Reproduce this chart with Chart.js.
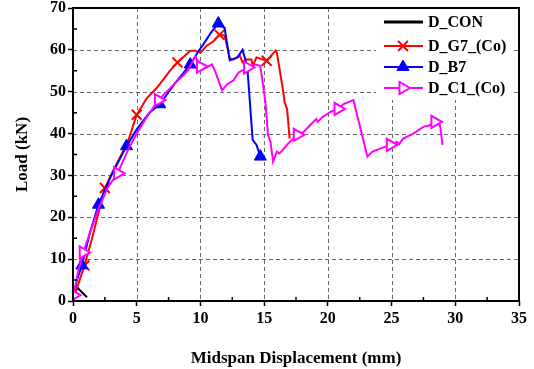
<!DOCTYPE html>
<html>
<head>
<meta charset="utf-8">
<script src="https://cdn.jsdelivr.net/npm/chart.js@4"></script>
<style>
  html, body { margin: 0; padding: 0; background: #fff; }
  #wrap { width: 534px; height: 369px; }
</style>
</head>
<body>
<div id="wrap"><canvas id="loadChart" width="534" height="369"></canvas></div>
<script>
// midspan displacement (mm) / load (kN)
const conX = [0, 0.15, 0.35, 0.6, 1.1];
const conY = [0, 2, 3.2, 2.4, 0.9];

const g7X = [0, 0.3, 0.9, 1.5, 2.0, 2.5, 3.3, 4.3, 5.0, 5.8, 6.6, 7.6, 8.2, 9.2, 9.6, 10.0, 10.5, 11.0, 11.5, 11.9, 12.3, 12.6, 13.1, 13.3, 13.6, 14.0, 14.1, 14.4, 15.2, 15.9, 16.0, 16.5, 16.6, 16.8, 17.0];
const g7Y = [0, 3, 8.5, 15, 21, 27, 32, 38, 44.5, 48.5, 51, 55, 57, 59.8, 59.8, 59.3, 61, 62, 63.6, 63.4, 58, 57.7, 58.6, 57, 57.7, 57.7, 56.2, 58.2, 57.4, 59.8, 59.3, 50, 47.5, 45.9, 38.8];
const g7Marks = [2, 5, 8, 12, 18, 28];

const b7X = [0, 0.3, 0.7, 1.3, 2.0, 3.0, 4.2, 5.0, 6.0, 6.8, 8.0, 9.2, 9.8, 10.2, 10.8, 11.4, 11.9, 12.3, 12.9, 13.3, 13.5, 13.7, 14.1, 14.4, 14.5, 14.7];
const b7Y = [0, 5, 8.5, 16, 23, 30, 37, 41, 45, 47, 52, 56.5, 59.5, 61.2, 64, 66.3, 65.2, 57.5, 58.2, 60, 58, 55, 38.5, 37.3, 36.4, 34.5];
const b7Marks = [2, 4, 6, 9, 11, 15, 25];

const c1X = [0, 0.05, 0.4, 0.8, 1.3, 2.0, 2.7, 3.5, 4.3, 5.0, 5.8, 6.7, 8.0, 9.0, 9.6, 10.0, 10.5, 10.9, 11.1, 11.7, 12.1, 12.6, 13.0, 13.7, 14.3, 14.7, 15.1, 15.3, 15.5, 15.7, 16.0, 16.2, 17.0, 17.6, 18.1, 18.6, 19.1, 19.2, 19.6, 20.2, 20.8, 21.2, 21.6, 22.0, 22.1, 23.1, 23.5, 24.1, 24.9, 25.4, 25.6, 25.9, 26.7, 27.5, 28.0, 28.4, 28.8, 29.0];
const c1Y = [0, 1.4, 7, 11.6, 16, 22, 27, 30.5, 36, 40, 44, 48, 52, 55, 58.5, 56, 55.8, 56.5, 55.3, 50.3, 51.8, 52.7, 54.6, 55.8, 56.5, 56.2, 47.5, 39.7, 38, 33.3, 35.7, 35.2, 38, 39.7, 40.4, 42, 43.5, 42.8, 44, 45.2, 45.9, 47, 47.5, 48, 46.8, 34.5, 35.7, 36.4, 37.3, 38, 37.5, 38.8, 40, 41.6, 42, 42.8, 42, 37.3];
const c1Marks = [1, 3, 7, 11, 15, 23, 33, 40, 48, 55];

const xTicks = [0, 5, 10, 15, 20, 25, 30, 35];
const yTicks = [0, 10, 20, 30, 40, 50, 60, 70];

const FONT = "'Liberation Serif', 'DejaVu Serif', serif";

function pts(xs, ys) {
  return xs.map((x, i) => ({ x: x, y: ys[i] }));
}
function markAt(list, r) {
  return ctx => list.includes(ctx.dataIndex) ? r : 0;
}

const series = [
  { label: 'D_CON', data: pts(conX, conY), color: '#000000', fill: '#000000',
    radius: 0, style: false, bw: 1, rot: 0 },
  { label: 'D_G7_(Co)', data: pts(g7X, g7Y), color: '#ff0000', fill: '#ff0000',
    radius: 7, marks: g7Marks, style: 'crossRot', bw: 2, rot: 0 },
  { label: 'D_B7', data: pts(b7X, b7Y), color: '#0000ff', fill: '#0000ff',
    radius: 7, marks: b7Marks, style: 'triangle', bw: 1, rot: 0 },
  { label: 'D_C1_(Co)', data: pts(c1X, c1Y), color: '#ff00ff', fill: '#ffffff',
    radius: 7, marks: c1Marks, style: 'triangle', bw: 2, rot: 90 }
];

// dashes drawn as short strokes so they do not depend on setLineDash
function dashedGrid(chart) {
  const c = chart.ctx, a = chart.chartArea;
  const xs = chart.scales.x, ys = chart.scales.y;
  c.save();
  c.fillStyle = '#6a6a6a';
  xTicks.slice(1, -1).forEach(v => {
    const px = Math.round(xs.getPixelForValue(v));
    for (let y = a.top; y < a.bottom; y += 7) c.fillRect(px, y, 1, Math.min(4, a.bottom - y));
  });
  yTicks.slice(1, -1).forEach(v => {
    const py = Math.round(ys.getPixelForValue(v));
    for (let x = a.left; x < a.right; x += 7) c.fillRect(x, py, Math.min(4, a.right - x), 1);
  });
  c.restore();
}

const framePlugin = {
  id: 'frame',
  beforeDatasetsDraw(chart) {
    dashedGrid(chart);
  },
  afterDatasetsDraw(chart) {
    const c = chart.ctx, a = chart.chartArea;
    const xs = chart.scales.x, ys = chart.scales.y;
    c.save();
    c.strokeStyle = '#000';
    c.lineWidth = 2;
    c.strokeRect(a.left, a.top, a.right - a.left, a.bottom - a.top);
    c.lineWidth = 1.5;
    c.beginPath();
    for (let v = 2.5; v < 35; v += 5) {
      const px = xs.getPixelForValue(v);
      c.moveTo(px, a.bottom); c.lineTo(px, a.bottom - 4);
    }
    for (let v = 5; v < 70; v += 10) {
      const py = ys.getPixelForValue(v);
      c.moveTo(a.left, py); c.lineTo(a.left + 4, py);
    }
    c.stroke();

    // legend
    c.fillStyle = '#fff';
    c.fillRect(376, 9, 137, 91);
    const rows = [22, 46, 67, 88];
    c.font = 'bold 16px ' + FONT;
    c.textBaseline = 'middle';
    series.forEach((s, i) => {
      const y = rows[i];
      c.strokeStyle = s.color;
      c.lineWidth = i === 0 ? 3 : 2;
      c.beginPath(); c.moveTo(384, y); c.lineTo(423, y); c.stroke();
      if (s.style) {
        c.fillStyle = s.fill;
        c.strokeStyle = s.color;
        c.lineWidth = s.bw;
        Chart.helpers.drawPoint(c, { pointStyle: s.style, rotation: s.rot, radius: s.radius, borderWidth: s.bw }, 403, y);
      }
      c.fillStyle = '#000';
      c.fillText(s.label, 428, y + 1);
    });
    c.restore();
  }
};

new Chart(document.getElementById('loadChart'), {
  type: 'scatter',
  data: {
    datasets: series.map(s => ({
      label: s.label,
      data: s.data,
      showLine: true,
      borderColor: s.color,
      backgroundColor: s.fill,
      borderWidth: 2,
      pointRadius: s.marks ? markAt(s.marks, s.radius) : 0,
      pointHoverRadius: 0,
      pointStyle: s.style,
      pointRotation: s.rot,
      pointBorderWidth: s.bw,
      pointBorderColor: s.color,
      pointBackgroundColor: s.fill,
      tension: 0
    })).reverse()
  },
  options: {
    responsive: false,
    animation: false,
    layout: { padding: { top: 1, right: 15, left: 0, bottom: 0 } },
    plugins: { legend: { display: false }, tooltip: { enabled: false } },
    scales: {
      x: {
        type: 'linear', min: 0, max: 35,
        afterBuildTicks: s => { s.ticks = xTicks.map(v => ({ value: v })); },
        afterFit: s => { s.height = 68; },
        ticks: { color: '#000', font: { family: FONT, size: 16, weight: 'bold' }, padding: 3 },
        grid: { drawOnChartArea: false, color: '#000', tickColor: '#000', tickLength: 5, tickWidth: 1.5 },
        border: { display: false },
        title: { display: true, text: 'Midspan Displacement (mm)', color: '#000',
                 font: { family: FONT, size: 17, weight: 'bold' }, padding: { top: 18, bottom: 0 } }
      },
      y: {
        type: 'linear', min: 0, max: 70,
        afterBuildTicks: s => { s.ticks = yTicks.map(v => ({ value: v })); },
        afterFit: s => { s.width = 73; s.paddingTop = 0; },
        ticks: { color: '#000', font: { family: FONT, size: 16, weight: 'bold' }, padding: 2 },
        grid: { drawOnChartArea: false, color: '#000', tickColor: '#000', tickLength: 5, tickWidth: 1.5 },
        border: { display: false },
        title: { display: true, text: 'Load (kN)', color: '#000',
                 font: { family: FONT, size: 17, weight: 'bold' }, padding: { top: 12, bottom: 0 } }
      }
    }
  },
  plugins: [framePlugin]
});
</script>
</body>
</html>
